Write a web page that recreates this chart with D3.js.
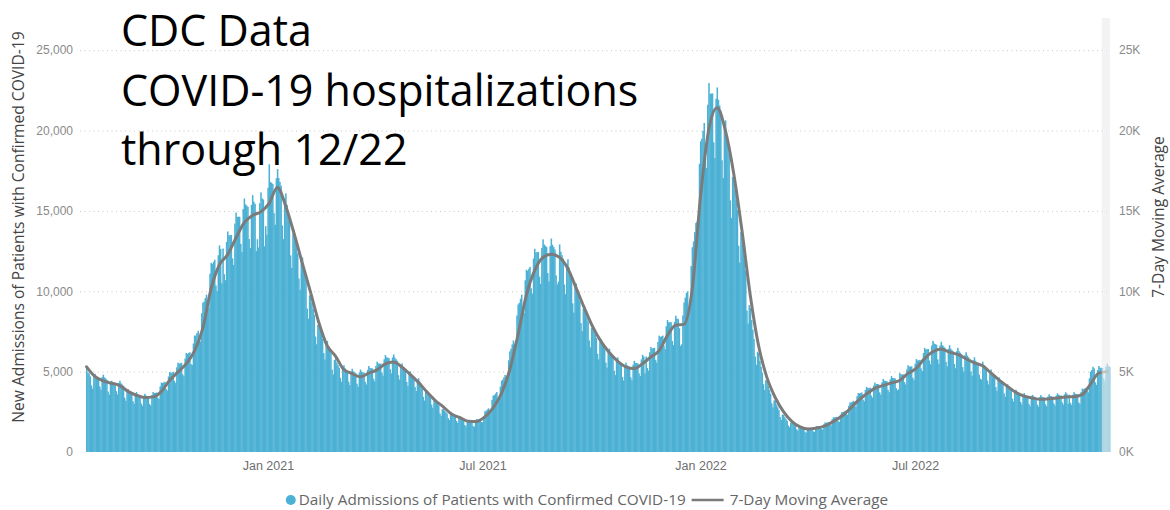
<!DOCTYPE html>
<html><head><meta charset="utf-8">
<script src="https://cdn.jsdelivr.net/npm/d3@7"></script>
<style>
body{margin:0;background:#fff;}
svg{display:block;font-family:"Open Sans","Noto Sans",sans-serif;}
</style>
</head><body>
<svg id="chart" width="1170" height="510"></svg>
<script>
// ---------------- data ----------------
const titleLines = ["CDC Data", "COVID-19 hospitalizations", "through 12/22"];
const leftAxisTitle = "New Admissions of Patients with Confirmed COVID-19";
const rightAxisTitle = "7-Day Moving Average";
const legendLabels = ["Daily Admissions of Patients with Confirmed COVID-19", "7-Day Moving Average"];

const dailyStart = "2020-08-01";
const dailyAdmissions = [
5350,4950,4880,4700,
4140,3930,4710,4860,4690,4610,4540,
4080,3880,4660,4810,4640,4570,4490,
3760,3570,4290,4430,4280,4210,4150,
3780,3580,4300,4430,4270,4190,4120,
3380,3190,3810,3910,3750,3670,3590,
3160,3000,3610,3730,3600,3550,3500,
3020,2880,3480,3620,3520,3480,3450,
2980,2890,3540,3730,3670,3680,3700,
3380,3300,4080,4320,4290,4330,4370,
3920,3820,4700,4970,4920,4950,4990,
4420,4290,5270,5560,5490,5520,5550,
4830,4710,5810,6160,6100,6160,6210,
5470,5410,6750,7240,7250,7400,7540,
6930,6880,8630,9290,9350,9570,9790,
9170,8970,11090,11770,11690,11830,11960,
10360,10010,12240,12850,12630,10500,12660,
11060,10690,13070,13720,13480,13490,13500,
12050,11630,14210,14900,14630,14640,14630,
12950,12430,15110,15770,15400,15330,15260,
13250,12690,15370,15980,15570,15440,12500,
13240,12720,15470,16150,15780,15710,12800,
14050,13510,16440,17900,16800,16740,16670,
14860,14140,17030,17600,17040,16800,16570,
14090,13240,15760,16090,15380,14980,14570,
12230,11460,13590,13820,13160,12760,12370,
10790,10090,11920,12100,11480,11100,10720,
8920,8290,9750,9830,9270,8900,8540,
7180,6700,7900,7990,7570,7290,7030,
6150,5750,6800,6910,6570,6360,6150,
5130,4820,5720,5830,5570,5410,5250,
4620,4370,5240,5400,5200,5110,5020,
4370,4160,5010,5180,5020,4950,4890,
4250,4070,4930,5130,5000,4960,4930,
4370,4200,5110,5350,5230,5210,5200,
4560,4390,5360,5620,5510,5500,5500,
4940,4750,5770,6030,5890,5870,5840,
5150,4890,5880,6070,5870,5770,5680,
4780,4500,5380,5510,5280,5160,5040,
4350,4100,4900,5020,4820,4710,4600,
4040,3790,4500,4590,4380,4260,4130,
3430,3200,3780,3830,3640,3510,3390,
2950,2750,3250,3290,3120,3020,2910,
2400,2250,2660,2700,2570,2480,2400,
2110,1990,2370,2430,2330,2270,2220,
1930,1810,2160,2210,2120,2070,2020,
1680,1590,1910,1980,1910,1880,1850,
1610,1570,1940,2050,2030,2050,2070,
1860,1860,2100,2540,2570,2640,2720,
2590,2580,3250,3510,3540,3640,3730,
3200,3210,4070,4430,4500,4640,4790,
4370,4450,5710,6260,6420,6690,6940,
6740,6730,8490,9180,9280,9540,9790,
8830,8640,10680,11340,11270,11400,11520,
10190,9850,12040,12640,12420,12430,12440,
10910,10460,12700,13230,12910,12830,12750,
11130,10610,12810,13280,12890,12750,12600,
10990,10430,10600,12910,12460,12250,12040,
10420,9820,11710,11990,11490,11210,10940,
9250,8670,10290,10480,9980,9690,9400,
8020,7520,8910,9070,8640,8380,8120,
6940,6510,7730,7880,7520,7310,7100,
6110,5760,6860,7020,6720,6560,6400,
5560,5250,6270,6430,6170,6030,5900,
5060,4790,5730,5890,5660,5550,5440,
4670,4450,5370,5560,5390,5330,5260,
4640,4460,5430,5670,5550,5530,5510,
4890,4720,5760,6050,5940,4900,5940,
5230,5070,6210,6530,6440,6460,6480,
5730,5570,6850,7240,7150,7200,7240,
6620,6400,7820,8210,8070,8070,8080,
6910,6650,8100,8480,8300,8280,7700,
6600,6700,8500,9300,9600,9900,10000,
8800,9000,11570,12740,13100,13680,14250,
14340,14260,17930,19330,19490,19980,20470,
18300,17680,21610,22950,22280,22300,22310,
19270,18290,21980,22680,21910,21560,21210,
18150,17040,20240,20630,19680,19120,18570,
15650,14560,17120,17280,16310,15680,15050,
12830,11780,13680,13610,12650,11960,11280,
8800,7990,9140,8960,8200,7610,7030,
5940,5420,6240,6160,5670,5300,4940,
4220,3860,4470,4430,4100,3860,3620,
3030,2780,3210,3190,2950,2780,2610,
2180,2000,2330,2320,2160,2050,1940,
1650,1540,1820,1840,1740,1670,1610,
1410,1330,1580,1620,1550,1520,1480,
1260,1200,1460,1510,1470,1460,1440,
1290,1250,1540,1620,1600,1600,1610,
1430,1400,1730,1840,1820,1840,1860,
1680,1650,2040,2160,2150,2170,2190,
1910,1870,2330,2480,2480,2520,2560,
2350,2320,2880,3080,3080,3130,3180,
2890,2810,3470,3670,3640,3670,3700,
3260,3150,3860,4050,3980,3990,4000,
3510,3390,4130,4320,4230,4230,4220,
3710,3570,4340,4540,4440,4420,4410,
3870,3720,4520,4720,4610,4600,4580,
3970,3840,3900,4910,4830,4830,4830,
4350,4200,5140,5400,5310,5320,5330,
4620,4480,5490,5780,5690,5710,5730,
5200,5030,6160,6480,6380,6400,6410,
5690,5460,6630,6910,6750,6710,6670,
5760,5490,6620,6860,6650,6570,6490,
5600,5330,6420,6640,6430,6340,6260,
5480,5210,6270,6480,6270,6180,6090,
5280,5010,6020,6210,6000,5900,5800,
5010,4750,5710,5890,5680,5590,5490,
4820,4560,4500,5620,5410,5300,5200,
4450,4200,5010,5130,4920,4810,4700,
4030,3800,4540,4640,4450,4350,4240,
3650,3440,4110,4210,4040,3950,3860,
3320,3140,3760,3870,3720,3650,3580,
3110,2960,3560,3670,3550,3490,3440,
2990,2850,3440,3560,3460,3410,3370,
2950,2820,3410,3540,3440,3410,3380,
2970,2840,3450,3590,3490,3470,3440,
3020,2890,3510,3650,3560,3530,3510,
3090,2950,3590,3720,3620,3000,3560,
3060,2930,3560,3720,3630,3610,3590,
3080,3010,3720,3940,3910,3950,3990,
3800,3710,4580,5000,5100,5300,5200,
4340,4180,5100,5350,5240,5240,5230,
4590,4390,5300,5500,5350,5300
];

// 7-day moving average, read every 7 days starting at maStart
const maStart = "2020-08-01";
const maStepDays = 7;
const movingAverage = [
5300,4700,4420,4280,4130,3770,3530,3390,3430,3760,
4450,4970,5480,6280,7690,10150,11640,12280,13310,14270,
14720,14940,15470,16460,15300,13610,11750,9930,8040,6610,
5970,5130,4880,4680,4900,5110,5480,5600,5290,4830,
4330,3750,3220,2810,2360,2140,1920,1900,2190,2750,
3630,5100,7290,9750,11280,12100,12300,12110,11420,10210,
8960,7800,6880,6190,5660,5300,5190,5490,5910,6300,
7240,7890,7940,10130,15900,20070,21410,20000,17330,13760,
9740,6610,4640,3390,2510,1910,1560,1430,1490,1630,
1890,2220,2680,3200,3610,3960,4130,4300,4450,4890,
5200,5810,6240,6410,6210,6070,5800,5550,5360,4920,
4470,4080,3710,3480,3360,3280,3310,3360,3420,3440,
3570,4210,4910,5000
];
const incompleteDays = 7;

const yTicks = [0, 5000, 10000, 15000, 20000, 25000];
const yTickLabelsLeft = ["0", "5,000", "10,000", "15,000", "20,000", "25,000"];
const yTickLabelsRight = ["0K", "5K", "10K", "15K", "20K", "25K"];
const yMax = 27000;
const xTickDates = ["2021-01-01", "2021-07-01", "2022-01-01", "2022-07-01"];
const xTickLabels = ["Jan 2021", "Jul 2021", "Jan 2022", "Jul 2022"];

// ---------------- chart ----------------
const BAR = "#4cb1d4", LINE = "#7b7b7b";
const svg = d3.select("#chart");
const parse = d3.timeParse("%Y-%m-%d");
const start = parse(dailyStart);
const daily = dailyAdmissions.map((v, i) => ({date: d3.timeDay.offset(start, i), v}));
const lastDate = daily[daily.length - 1].date;
const ma = movingAverage.map((v, i) => ({date: d3.timeDay.offset(parse(maStart), i * maStepDays), v}));

const plot = {left: 86, right: 1110, top: 18, bottom: 452};
const x = d3.scaleTime()
  .domain([d3.timeHour.offset(start, -12), d3.timeHour.offset(lastDate, 12)])
  .range([plot.left, plot.right]);
const y = d3.scaleLinear().domain([0, yMax]).range([plot.bottom, plot.top]);

// gridlines
const grid = svg.append("g").attr("transform", `translate(${plot.left - 6},0)`)
  .call(d3.axisLeft(y).tickValues(yTicks.slice(1)).tickSize(-(plot.right - plot.left + 6)).tickFormat(""));
grid.select(".domain").remove();
grid.selectAll("line").attr("stroke", "#c8c8c8").attr("stroke-dasharray", "1,3.5");

// bars
svg.append("g").selectAll("rect").data(daily).join("rect")
  .attr("x", d => x(d3.timeHour.offset(d.date, -12)))
  .attr("width", d => x(d3.timeHour.offset(d.date, 12)) - x(d3.timeHour.offset(d.date, -12)) + 0.35)
  .attr("y", d => y(d.v))
  .attr("height", d => y(0) - y(d.v))
  .attr("fill", BAR);

// moving average line
svg.append("path").datum(ma)
  .attr("d", d3.line().x(d => x(d.date)).y(d => y(d.v)).curve(d3.curveMonotoneX))
  .attr("fill", "none").attr("stroke", LINE).attr("stroke-width", 3)
  .attr("stroke-linejoin", "round").attr("stroke-linecap", "round");

// incomplete-data band (overlay)
const bandStart = d3.timeHour.offset(d3.timeDay.offset(lastDate, -(incompleteDays - 1)), -12);
svg.append("rect")
  .attr("x", x(bandStart)).attr("width", plot.right - x(bandStart))
  .attr("y", plot.top).attr("height", plot.bottom - plot.top)
  .attr("fill", "#ececec").attr("opacity", 0.62);

// left axis
const yl = svg.append("g").attr("transform", `translate(${plot.left},0)`)
  .call(d3.axisLeft(y).tickValues(yTicks).tickSize(0).tickPadding(13)
    .tickFormat((d, i) => yTickLabelsLeft[i]));
yl.select(".domain").remove();
yl.selectAll("text").attr("fill", "#8a8a8a").style("font-size", "12px");

// right axis
const yr = svg.append("g").attr("transform", `translate(${plot.right},0)`)
  .call(d3.axisRight(y).tickValues(yTicks).tickSize(0).tickPadding(9)
    .tickFormat((d, i) => yTickLabelsRight[i]));
yr.select(".domain").remove();
yr.selectAll("text").attr("fill", "#8a8a8a").style("font-size", "12px");

// x axis
const xa = svg.append("g").attr("transform", `translate(0,${plot.bottom})`)
  .call(d3.axisBottom(x).tickValues(xTickDates.map(parse)).tickSize(0).tickPadding(9)
    .tickFormat((d, i) => xTickLabels[i]));
xa.select(".domain").remove();
xa.selectAll("text").attr("fill", "#6e6e6e").style("font-size", "12.5px");

// axis titles
svg.append("text").attr("transform", "translate(24,227) rotate(-90)")
  .attr("text-anchor", "middle").attr("fill", "#444").style("font-size", "15.6px")
  .text(leftAxisTitle);
svg.append("text").attr("transform", "translate(1164,217) rotate(-90)")
  .attr("text-anchor", "middle").attr("fill", "#444").style("font-size", "15.6px")
  .text(rightAxisTitle);

// title overlay
const tt = svg.append("g");
const titleBaselines = [46, 106, 165];
titleLines.forEach((t, i) => {
  tt.append("text").attr("x", 121).attr("y", titleBaselines[i])
    .attr("fill", "#000").style("font-size", "43px").text(t);
});

// legend
const lg = svg.append("g").attr("transform", "translate(0,500)");
lg.append("circle").attr("cx", 0).attr("cy", 0).attr("r", 5).attr("fill", BAR);
const t1 = lg.append("text").attr("x", 8).attr("dy", "0.35em").attr("fill", "#666")
  .style("font-size", "15.3px").text(legendLabels[0]);
const w1 = t1.node().getComputedTextLength();
lg.append("line").attr("x1", 8 + w1 + 6).attr("x2", 8 + w1 + 38).attr("y1", 0).attr("y2", 0)
  .attr("stroke", LINE).attr("stroke-width", 2.5);
const t2 = lg.append("text").attr("x", 8 + w1 + 44).attr("dy", "0.35em").attr("fill", "#666")
  .style("font-size", "15.3px").text(legendLabels[1]);
const bb = lg.node().getBBox();
lg.attr("transform", `translate(${587 - (bb.x + bb.width / 2)},500)`);
</script>
</body></html>
